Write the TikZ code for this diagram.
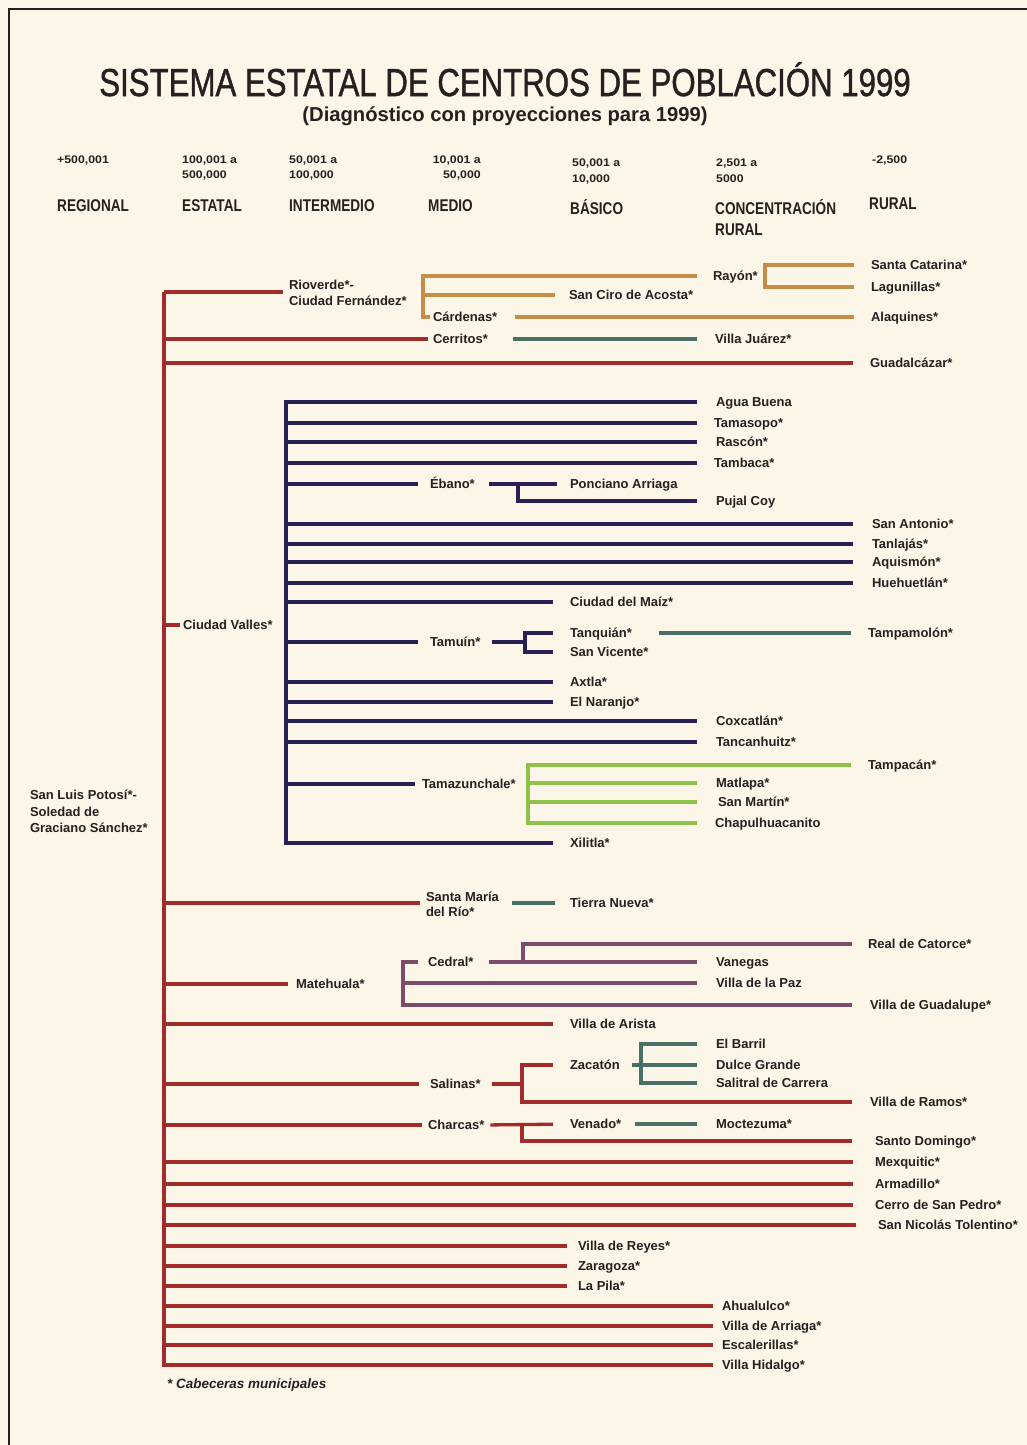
\documentclass[tikz,border=0pt]{standalone}
\usepackage{fontspec}
\setmainfont{Liberation Sans}
\newfontfamily\titlefont[FakeBold=1.3]{Liberation Sans}
\usepackage{graphicx}

\definecolor{paper}{RGB}{251,246,231}
\definecolor{ink}{RGB}{38,32,32}
\definecolor{trunkred}{RGB}{162,44,44}
\definecolor{tan}{RGB}{198,140,72}
\definecolor{slate}{RGB}{74,112,102}
\definecolor{navy}{RGB}{40,32,82}
\definecolor{leaf}{RGB}{142,192,74}
\definecolor{mauve}{RGB}{124,76,106}

\newcommand\lblfont{\bfseries\fontsize{13}{15}\selectfont}
\newcommand\hdr[1]{\scalebox{0.8}[1]{\bfseries\fontsize{17}{21}\selectfont #1}}
\newcommand\rng[1]{\scalebox{1.12}[1]{\bfseries\fontsize{11}{13}\selectfont #1}}

\begin{document}
\begin{tikzpicture}[x=1pt,y=-1pt,
  lbl/.style={anchor=west, inner sep=0pt, outer sep=0pt, font=\lblfont, text=ink,
              text height=9.3pt, text depth=0pt},
  head/.style={anchor=base west, inner sep=0pt, text=ink},
  wire/.style={line width=3.3pt, line join=miter, line cap=butt},
  rl/.style={wire, draw=trunkred},
  tl/.style={wire, draw=tan},
  sl/.style={wire, draw=slate},
  nl/.style={wire, draw=navy},
  gl/.style={wire, draw=leaf},
  ml/.style={wire, draw=mauve}]

% sheet and frame
\useasboundingbox (0,0) rectangle (1027,1445);
\fill[paper] (0,0) rectangle (1027,1445);
\draw[line width=2pt, ink] (9,1445) -- (9,9) -- (1027,9);

% titles
\node[anchor=base, inner sep=0pt, text=ink] (title) at (505,96)
  {\scalebox{0.8}[1]{\titlefont\fontsize{39}{39}\selectfont SISTEMA ESTATAL DE CENTROS DE POBLACIÓN 1999}};
\node[anchor=base, inner sep=0pt, text=ink] (subtitle) at (505,121)
  {\resizebox{405pt}{!}{\bfseries\fontsize{20}{22}\selectfont (Diagnóstico con proyecciones para 1999)}};

% population ranges
\node[head] (r1) at (57,163) {\rng{+500,001}};
\node[head] (r2a) at (182,163) {\rng{100,001 a}};
\node[head] (r2b) at (182,178) {\rng{500,000}};
\node[head] (r3a) at (289,163) {\rng{50,001 a}};
\node[head] (r3b) at (289,178) {\rng{100,000}};
\node[head, anchor=base east] (r4a) at (481,163) {\rng{10,001 a}};
\node[head, anchor=base east] (r4b) at (481,178) {\rng{50,000}};
\node[head] (r5a) at (572,166) {\rng{50,001 a}};
\node[head] (r5b) at (572,182) {\rng{10,000}};
\node[head] (r6a) at (716,166) {\rng{2,501 a}};
\node[head] (r6b) at (716,182) {\rng{5000}};
\node[head] (r7) at (872,163) {\rng{-2,500}};

% hierarchy levels
\node[head] (h1) at (57,211) {\hdr{REGIONAL}};
\node[head] (h2) at (182,211) {\hdr{ESTATAL}};
\node[head] (h3) at (289,211) {\hdr{INTERMEDIO}};
\node[head] (h4) at (428,211) {\hdr{MEDIO}};
\node[head] (h5) at (570,214) {\hdr{BÁSICO}};
\node[head] (h6a) at (715,214) {\hdr{CONCENTRACIÓN}};
\node[head] (h6b) at (715,235) {\hdr{RURAL}};
\node[head] (h7) at (869,209) {\hdr{RURAL}};

% ---------- place names ----------
\node[lbl] (slp1) at (30,795) {San Luis Potosí*-};
\node[lbl] (slp2) at (30,812) {Soledad de};
\node[lbl] (slp3) at (30,828) {Graciano Sánchez*};

% Rioverde group
\node[lbl] (rio1) at (289,285) {Rioverde*-};
\node[lbl] (rio2) at (289,301) {Ciudad Fernández*};
\node[lbl] (rayon) at (713,276) {Rayón*};
\node[lbl] (sanciro) at (569,295) {San Ciro de Acosta*};
\node[lbl] (cardenas) at (433,317) {Cárdenas*};
\node[lbl] (scatarina) at (871,265) {Santa Catarina*};
\node[lbl] (lagunillas) at (871,287) {Lagunillas*};
\node[lbl] (alaquines) at (871,317) {Alaquines*};
\node[lbl] (cerritos) at (433,339) {Cerritos*};
\node[lbl] (vjuarez) at (715,339) {Villa Juárez*};
\node[lbl] (guadalcazar) at (870,363) {Guadalcázar*};

% Ciudad Valles group
\node[lbl] (cvalles) at (183,625) {Ciudad Valles*};
\node[lbl] (agua) at (716,402) {Agua Buena};
\node[lbl] (tamasopo) at (714,423) {Tamasopo*};
\node[lbl] (rascon) at (716,442) {Rascón*};
\node[lbl] (tambaca) at (714,463) {Tambaca*};
\node[lbl] (ebano) at (430,484) {Ébano*};
\node[lbl] (ponciano) at (570,484) {Ponciano Arriaga};
\node[lbl] (pujal) at (716,501) {Pujal Coy};
\node[lbl] (sanantonio) at (872,524) {San Antonio*};
\node[lbl] (tanlajas) at (872,544) {Tanlajás*};
\node[lbl] (aquismon) at (872,562) {Aquismón*};
\node[lbl] (huehuetlan) at (872,583) {Huehuetlán*};
\node[lbl] (cdmaiz) at (570,602) {Ciudad del Maíz*};
\node[lbl] (tamuin) at (430,642) {Tamuín*};
\node[lbl] (tanquian) at (570,633) {Tanquián*};
\node[lbl] (svicente) at (570,652) {San Vicente*};
\node[lbl] (tampamolon) at (868,633) {Tampamolón*};
\node[lbl] (axtla) at (570,682) {Axtla*};
\node[lbl] (elnaranjo) at (570,702) {El Naranjo*};
\node[lbl] (coxcatlan) at (716,721) {Coxcatlán*};
\node[lbl] (tancanhuitz) at (716,742) {Tancanhuitz*};
\node[lbl] (tamazunchale) at (422,784) {Tamazunchale*};
\node[lbl] (tampacan) at (868,765) {Tampacán*};
\node[lbl] (matlapa) at (716,783) {Matlapa*};
\node[lbl] (sanmartin) at (718,802) {San Martín*};
\node[lbl] (chapul) at (715,823) {Chapulhuacanito};
\node[lbl] (xilitla) at (570,843) {Xilitla*};

% Santa María del Río
\node[lbl] (smr1) at (426,897) {Santa María};
\node[lbl] (smr2) at (426,912) {del Río*};
\node[lbl] (tnueva) at (570,903) {Tierra Nueva*};

% Matehuala group
\node[lbl] (matehuala) at (296,984) {Matehuala*};
\node[lbl] (cedral) at (428,962) {Cedral*};
\node[lbl] (realcatorce) at (868,944) {Real de Catorce*};
\node[lbl] (vanegas) at (716,962) {Vanegas};
\node[lbl] (vlapaz) at (716,983) {Villa de la Paz};
\node[lbl] (vguadalupe) at (870,1005) {Villa de Guadalupe*};
\node[lbl] (varista) at (570,1024) {Villa de Arista};

% Salinas and Charcas groups
\node[lbl] (salinas) at (430,1084) {Salinas*};
\node[lbl] (zacaton) at (570,1065) {Zacatón};
\node[lbl] (elbarril) at (716,1044) {El Barril};
\node[lbl] (dulce) at (716,1065) {Dulce Grande};
\node[lbl] (salitral) at (716,1083) {Salitral de Carrera};
\node[lbl] (vramos) at (870,1102) {Villa de Ramos*};
\node[lbl] (charcas) at (428,1125) {Charcas*};
\node[lbl] (venado) at (570,1124) {Venado*};
\node[lbl] (moctezuma) at (716,1124) {Moctezuma*};
\node[lbl] (sdomingo) at (875,1141) {Santo Domingo*};

% direct dependencies of the capital
\node[lbl] (mexquitic) at (875,1162) {Mexquitic*};
\node[lbl] (armadillo) at (875,1184) {Armadillo*};
\node[lbl] (cerro) at (875,1205) {Cerro de San Pedro*};
\node[lbl] (sannicolas) at (878,1225) {San Nicolás Tolentino*};
\node[lbl] (vreyes) at (578,1246) {Villa de Reyes*};
\node[lbl] (zaragoza) at (578,1266) {Zaragoza*};
\node[lbl] (lapila) at (578,1286) {La Pila*};
\node[lbl] (ahualulco) at (722,1306) {Ahualulco*};
\node[lbl] (varriaga) at (722,1326) {Villa de Arriaga*};
\node[lbl] (escalerillas) at (722,1345) {Escalerillas*};
\node[lbl] (vhidalgo) at (722,1365) {Villa Hidalgo*};

\node[anchor=west, inner sep=0pt, text=ink] (nota) at (167,1385)
  {\bfseries\itshape\fontsize{13.5}{15}\selectfont * Cabeceras municipales};

% ---------- bracket columns ----------
\coordinate (trunk) at (164,292);
\coordinate (rvx) at (423,0);
\coordinate (ryx) at (765,0);
\coordinate (nvx) at (286,0);
\coordinate (ebx) at (518,0);
\coordinate (tmx) at (525,0);
\coordinate (grx) at (528,0);
\coordinate (mvx) at (403,0);
\coordinate (cdx) at (523,0);
\coordinate (slx) at (522,0);
\coordinate (zcx) at (641,0);

% ---------- main trunk ----------
\draw[rl, shorten >=9pt] (trunk) -- (trunk |- vhidalgo) -- (vhidalgo.west);
\draw[rl, shorten >=6pt] (trunk) -- (trunk -| rio1.west);
\draw[rl, shorten >=5pt] (trunk |- cerritos) -- (cerritos.west);
\draw[rl, shorten >=17pt] (trunk |- guadalcazar) -- (guadalcazar.west);
\draw[rl, shorten >=3pt] (trunk |- cvalles) -- (cvalles.west);
\draw[rl, shorten >=6pt] (trunk |- tnueva) -- (tnueva -| smr1.west);
\draw[rl, shorten >=8pt] (trunk |- matehuala) -- (matehuala.west);
\draw[rl, shorten >=17pt] (trunk |- varista) -- (varista.west);
\draw[rl, shorten >=11pt] (trunk |- salinas) -- (salinas.west);
\draw[rl, shorten >=6pt] (trunk |- charcas) -- (charcas.west);
\foreach \n/\g in {mexquitic/22, armadillo/22, cerro/22, sannicolas/22,
                   vreyes/11, zaragoza/11, lapila/11,
                   ahualulco/9, varriaga/9, escalerillas/9}
  \draw[rl, shorten >=\g pt] (trunk |- \n) -- (\n.west);

% ---------- Rioverde ----------
\draw[tl, shorten <=16pt] (rayon.west) -- (rayon -| rvx) -- (cardenas -| rvx) -- ([xshift=-3pt]cardenas.west);
\draw[tl, shorten >=14pt] (sanciro -| rvx) -- (sanciro.west);
\draw[tl, shorten <=18pt, shorten >=17pt] (cardenas.east) -- (alaquines.west);
\draw[tl, shorten <=17pt, shorten >=17pt] (scatarina.west) -- (scatarina -| ryx) -- (lagunillas -| ryx) -- (lagunillas.west);
\draw[sl, shorten <=25pt, shorten >=18pt] (cerritos.east) -- (vjuarez.west);

% ---------- Ciudad Valles ----------
\draw[nl, shorten <=19pt, shorten >=17pt] (agua.west) -- (agua -| nvx) -- (xilitla -| nvx) -- (xilitla.west);
\foreach \n/\g in {tamasopo/17, rascon/19, tambaca/17, ebano/12,
                   sanantonio/19, tanlajas/19, aquismon/19, huehuetlan/19,
                   cdmaiz/17, tamuin/12, axtla/17, elnaranjo/17,
                   coxcatlan/19, tancanhuitz/19, tamazunchale/7}
  \draw[nl, shorten >=\g pt] (\n -| nvx) -- (\n.west);
\draw[nl, shorten <=14pt, shorten >=13pt] (ebano.east) -- (ponciano.west);
\draw[nl, shorten >=19pt] (ebano -| ebx) -- (pujal -| ebx) -- (pujal.west);
\draw[nl, shorten <=12pt] (tamuin.east) -- (tamuin -| tmx);
\draw[nl, shorten <=17pt, shorten >=17pt] (tanquian.west) -- (tanquian -| tmx) -- (svicente -| tmx) -- (svicente.west);
\draw[sl, shorten <=27pt, shorten >=17pt] (tanquian.east) -- (tampamolon.west);
\draw[gl, shorten <=17pt, shorten >=18pt] (tampacan.west) -- (tampacan -| grx) -- (chapul -| grx) -- (chapul.west);
\draw[gl, shorten >=19pt] (matlapa -| grx) -- (matlapa.west);
\draw[gl, shorten >=21pt] (sanmartin -| grx) -- (sanmartin.west);

% ---------- Santa María del Río ----------
\draw[sl, shorten >=15pt] ([xshift=-58pt]tnueva.west) -- (tnueva.west);

% ---------- Matehuala ----------
\draw[ml, shorten <=10pt, shorten >=18pt] (cedral.west) -- (cedral -| mvx) -- (vguadalupe -| mvx) -- (vguadalupe.west);
\draw[ml, shorten >=19pt] (vlapaz -| mvx) -- (vlapaz.west);
\draw[ml, shorten <=15pt] (cedral.east) -- (cedral -| cdx);
\draw[ml, shorten <=16pt, shorten >=19pt] (realcatorce.west) -- (realcatorce -| cdx) -- (vanegas -| cdx) -- (vanegas.west);

% ---------- Salinas ----------
\draw[rl, shorten <=11pt] (salinas.east) -- (salinas -| slx);
\draw[rl, shorten <=17pt, shorten >=18pt] (zacaton.west) -- (zacaton -| slx) -- (vramos -| slx) -- (vramos.west);
\draw[sl, shorten <=12pt] (zacaton.east) -- (zacaton -| zcx);
\draw[sl, shorten <=19pt, shorten >=19pt] (elbarril.west) -- (elbarril -| zcx) -- (salitral -| zcx) -- (salitral.west);
\draw[sl, shorten >=19pt] (dulce -| zcx) -- (dulce.west);

% ---------- Charcas ----------
\draw[rl, shorten <=6pt, shorten >=17pt] (charcas.east) -- (venado.west);
\draw[rl, shorten >=23pt] (charcas -| slx) -- (sdomingo -| slx) -- (sdomingo.west);
\draw[sl, shorten <=14pt, shorten >=19pt] (venado.east) -- (moctezuma.west);

\end{tikzpicture}
\end{document}
